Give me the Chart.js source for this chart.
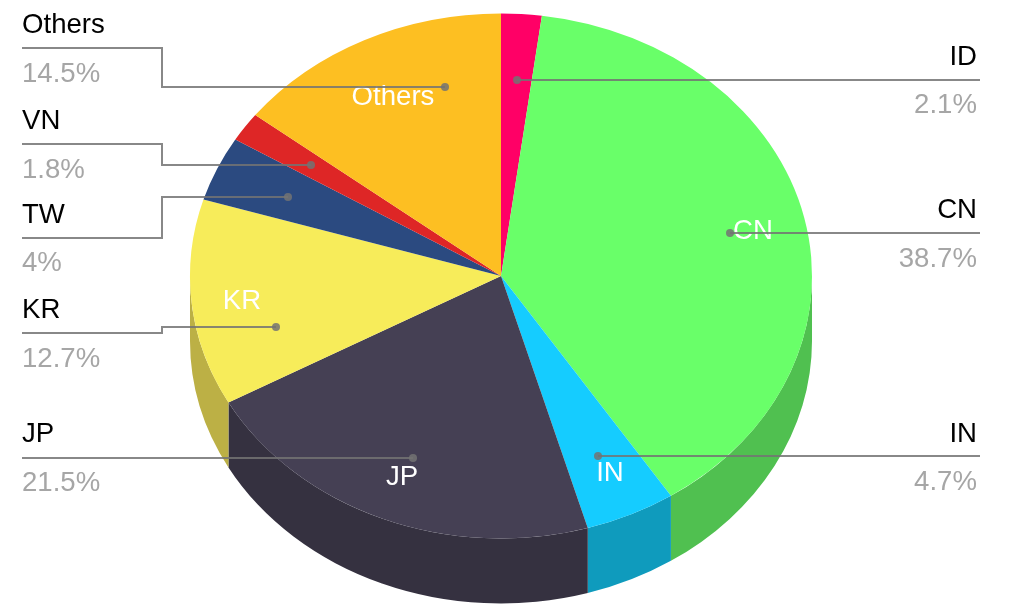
<!DOCTYPE html>
<html>
<head>
<meta charset="utf-8">
<style>html,body{margin:0;padding:0;background:#fff;overflow:hidden}canvas{display:block}</style>
<script src="https://cdn.jsdelivr.net/npm/chart.js@4"></script>
</head>
<body>
<canvas id="c" width="1010" height="606"></canvas>
<script>
const categories = ['ID','CN','IN','JP','KR','TW','VN','Others'];
const shares = [2.1,38.7,4.7,21.5,12.7,4,1.8,14.5];
const topColors = ['#ff0066','#69ff69','#15ccff','#454054','#f7ec5a','#2b4a80','#de2626','#fdbf22'];
const sideColors = ['#c4004e','#50c050','#0f9bbd','#353140','#bcb045','#213962','#aa1d1d','#c2931a'];

// Layout only
const pie = {cx:501, cy:276, rx:311, ry:262.5, depth:65};
const FONT = '27.6px "Liberation Sans", Arial, sans-serif';
const sideLabels = {
  Others:{x:22,name:33,pct:82,align:'left'},
  VN:{x:22,name:129,pct:178,align:'left'},
  TW:{x:22,name:223,pct:271,align:'left'},
  KR:{x:22,name:318,pct:367,align:'left'},
  JP:{x:22,name:442,pct:491,align:'left'},
  ID:{x:977,name:65,pct:113,align:'right'},
  CN:{x:977,name:218,pct:267,align:'right'},
  IN:{x:977,name:442,pct:490,align:'right'}
};
const innerLabels = {Others:[393,105],CN:[753,239],IN:[610,481],JP:[402,485],KR:[242,309]};
const leaders = [
  [[22,48],[162,48],[162,87],[445,87]],
  [[22,144],[162,144],[162,165],[311,165]],
  [[22,238],[162,238],[162,197],[288,197]],
  [[22,333],[162,333],[162,327],[276,327]],
  [[22,458],[413,458]],
  [[980,80],[517,80]],
  [[980,233],[730,233]],
  [[980,456],[598,456]]
];

const pie3d = {
  id:'pie3d',
  beforeDatasetsDraw(chart){
    const ctx = chart.ctx, arcs = chart.getDatasetMeta(0).data;
    ctx.save();
    arcs.forEach((el,i)=>{
      const a0 = Math.max(el.startAngle,0), a1 = Math.min(el.endAngle,Math.PI);
      if(a1<=a0) return;
      ctx.beginPath();
      ctx.ellipse(pie.cx,pie.cy,pie.rx,pie.ry,0,a0,a1);
      ctx.ellipse(pie.cx,pie.cy+pie.depth,pie.rx,pie.ry,0,a1,a0,true);
      ctx.closePath();
      ctx.fillStyle = sideColors[i];
      ctx.fill();
    });
    ctx.restore();
    const el = arcs[0], R = el.outerRadius;
    ctx.save();
    ctx.translate(pie.cx,pie.cy);
    ctx.scale(pie.rx/R,pie.ry/R);
    ctx.translate(-el.x,-el.y);
  },
  afterDatasetsDraw(chart){
    const ctx = chart.ctx;
    ctx.restore();
    ctx.save();
    ctx.font = FONT;
    ctx.textBaseline = 'alphabetic';
    ctx.textAlign = 'center';
    ctx.fillStyle = '#ffffff';
    categories.forEach(c=>{
      const p = innerLabels[c];
      if(p) ctx.fillText(c,p[0],p[1]);
    });
    ctx.strokeStyle = 'rgba(115,115,115,0.85)';
    ctx.fillStyle = 'rgba(115,115,115,0.85)';
    ctx.lineWidth = 2;
    leaders.forEach(l=>{
      ctx.beginPath();
      l.forEach((p,i)=> i?ctx.lineTo(p[0],p[1]):ctx.moveTo(p[0],p[1]));
      ctx.stroke();
      const e = l[l.length-1];
      ctx.beginPath();
      ctx.arc(e[0],e[1],4,0,Math.PI*2);
      ctx.fill();
    });
    categories.forEach((c,i)=>{
      const s = sideLabels[c];
      ctx.textAlign = s.align;
      ctx.fillStyle = '#000000';
      ctx.fillText(c,s.x,s.name);
      ctx.fillStyle = '#a6a6a6';
      ctx.fillText(shares[i]+'%',s.x,s.pct);
    });
    ctx.restore();
  }
};

new Chart(document.getElementById('c'),{
  type:'pie',
  data:{labels:categories,datasets:[{data:shares,backgroundColor:topColors,borderWidth:0,clip:false}]},
  options:{
    responsive:false,
    animation:false,
    plugins:{legend:{display:false},tooltip:{enabled:false}},
    layout:{padding:0}
  },
  plugins:[pie3d]
});
</script>
</body>
</html>
